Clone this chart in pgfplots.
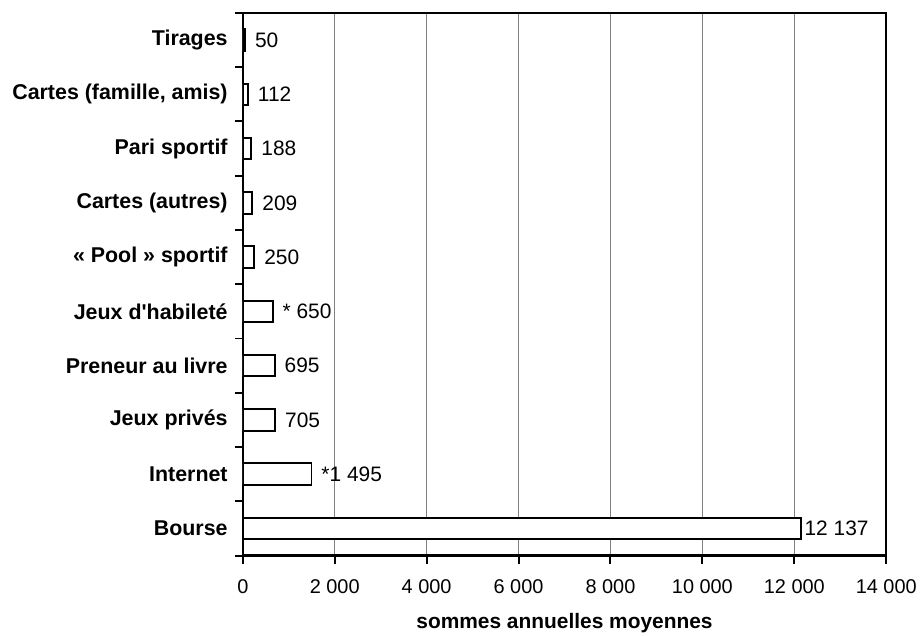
\documentclass[border=0pt]{standalone}
\usepackage{pgfplots}
\pgfplotsset{compat=1.18}
\usepackage{fontspec}
\setmainfont{Liberation Sans}[Ligatures=TeXOff]
\begin{document}
\begin{tikzpicture}
\begin{axis}[
  scale only axis, width=644bp, height=543bp,
  xmin=0, xmax=14000, ymin=-0.5, ymax=9.5,
  xbar, bar width=0.4, bar shift=0pt,
  scaled x ticks=false,
  xtick={0,2000,4000,6000,8000,10000,12000,14000},
  xticklabels={0,2 000,4 000,6 000,8 000,10 000,12 000,14 000},
  xmajorgrids, major grid style={gray, line width=0.9bp},
  ytick={-0.5,0.5,1.5,2.5,3.5,4.5,5.5,6.5,7.5,8.5,9.5},
  yticklabels={\mbox{},\mbox{},\mbox{},\mbox{},\mbox{},\mbox{},\mbox{},\mbox{},\mbox{},\mbox{},\mbox{}},
  extra y ticks={0,1,2,3,4,5,6,7,8,9},
  extra y tick labels={Bourse,Internet,Jeux privés,Preneur au livre,Jeux d'habileté,« Pool » sportif,Cartes (autres),Pari sportif,{Cartes (famille, amis)},Tirages},
  extra y tick style={tick style={draw=none}},
  tick align=outside, xtick pos=left, ytick pos=left,
  major tick length=8bp,
  tick style={black, line width=2bp},
  axis line style={black, line width=2.2bp},
  ticklabel style={font=\fontsize{20}{24}\selectfont},
  xticklabel style={yshift=-13bp},
  yticklabel style={font=\bfseries\fontsize{21.5}{25}\selectfont, inner sep=0pt, xshift=-7bp},
  xlabel={sommes annuelles moyennes},
  xlabel style={font=\bfseries\fontsize{21}{25}\selectfont, yshift=-12bp},
  nodes near coords, point meta=explicit symbolic,
  every node near coord/.append style={font=\fontsize{21}{25}\selectfont, anchor=west, inner sep=0pt, black},
]
\addplot[fill=white, draw=black, line width=2bp, every node near coord/.append style={xshift=9bp}] coordinates {
 (1495,1) [*1 495]
 (705,2) [705]
 (695,3) [695]
 (650,4) [* 650]
 (250,5) [250]
 (209,6) [209]
 (188,7) [188]
 (112,8) [112]
 (50,9) [50]
};
\addplot[fill=white, draw=black, line width=2bp, every node near coord/.append style={xshift=3bp}] coordinates {
 (12137,0) [12 137]
};
\end{axis}
\path ([xshift=-243bp,yshift=-79bp]current axis.south west) rectangle ([xshift=33bp,yshift=13bp]current axis.north east);
\end{tikzpicture}
\end{document}
